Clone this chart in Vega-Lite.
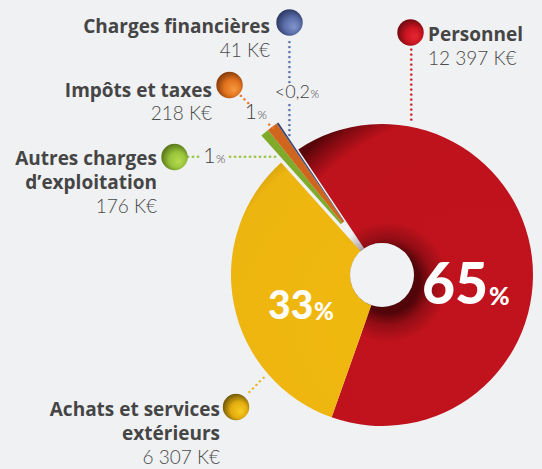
{
  "$schema": "https://vega.github.io/schema/vega-lite/v6.json",
  "width": 320,
  "height": 388,
  "padding": {"left": 222, "top": 81, "right": 0, "bottom": 0},
  "autosize": {"type": "none"},
  "background": "#F0F1F3",
  "config": {"view": {"stroke": null}, "text": {"font": "Lato"}},
  "data": {
    "values": [
      {"rank": 1, "category": "Personnel", "label": ["Personnel"], "amount": "12 397 K€", "value": 12397, "pct": "65"},
      {"rank": 2, "category": "Achats et services extérieurs", "label": ["Achats et services", "extérieurs"], "amount": "6 307 K€", "value": 6307, "pct": "33"},
      {"rank": 3, "category": "Autres charges d’exploitation", "label": ["Autres charges", "d’exploitation"], "amount": "176 K€", "value": 176, "pct": "1"},
      {"rank": 4, "category": "Impôts et taxes", "label": ["Impôts et taxes"], "amount": "218 K€", "value": 218, "pct": "1"},
      {"rank": 5, "category": "Charges financières", "label": ["Charges financières"], "amount": "41 K€", "value": 41, "pct": "<0,2"}
    ]
  },
  "layer": [
    {
      "mark": {"type": "arc", "innerRadius": 32, "outerRadius": 151,
        "fill": {"gradient": "radial", "x1": 0.75, "y1": 0.75, "r1": 0, "x2": 0.75, "y2": 0.75, "r2": 0.9,
          "stops": [{"offset": 0, "color": "#C1131D"}, {"offset": 0.89, "color": "#BE121C"}, {"offset": 0.96, "color": "#820A11"}, {"offset": 1, "color": "#58060A"}]}},
      "encoding": {
        "theta": {"field": "value", "type": "quantitative", "stack": true, "scale": {"range": [-0.5882, 5.695]}},
        "order": {"field": "rank", "type": "quantitative"},
        "detail": {"field": "category"},
        "opacity": {"condition": {"test": "datum.rank === 1", "value": 1}, "value": 0}
      }
    },
    {
      "transform": [{"filter": "datum.rank === 1"}],
      "mark": {"type": "arc", "innerRadius": 0, "outerRadius": 60, "xOffset": 6, "yOffset": 7,
        "fill": {"gradient": "radial", "x1": 0.5, "y1": 0.5, "r1": 0, "x2": 0.5, "y2": 0.5, "r2": 0.5,
          "stops": [{"offset": 0, "color": "rgba(45,0,3,0.8)"}, {"offset": 0.52, "color": "rgba(45,0,3,0.75)"}, {"offset": 0.72, "color": "rgba(45,0,3,0.3)"}, {"offset": 1, "color": "rgba(45,0,3,0)"}]}},
      "encoding": {}
    },
    {
      "mark": {"type": "arc", "innerRadius": 32, "outerRadius": 151,
        "fill": {"gradient": "radial", "x1": 0.9, "y1": 0.62, "r1": 0, "x2": 0.9, "y2": 0.62, "r2": 0.95,
          "stops": [{"offset": 0, "color": "#F0B90F"}, {"offset": 0.78, "color": "#EDB50F"}, {"offset": 0.92, "color": "#B48808"}, {"offset": 1, "color": "#584203"}]}},
      "encoding": {
        "theta": {"field": "value", "type": "quantitative", "stack": true},
        "order": {"field": "rank", "type": "quantitative"},
        "detail": {"field": "category"},
        "opacity": {"condition": {"test": "datum.rank === 2", "value": 1}, "value": 0}
      }
    },
    {
      "mark": {"type": "arc", "innerRadius": 32, "outerRadius": 151, "xOffset": -19.8, "yOffset": -27},
      "encoding": {
        "theta": {"field": "value", "type": "quantitative", "stack": true},
        "order": {"field": "rank", "type": "quantitative"},
        "color": {"field": "category", "type": "nominal", "legend": null,
          "scale": {"domain": ["Personnel", "Achats et services extérieurs", "Autres charges d’exploitation", "Impôts et taxes", "Charges financières"],
                    "range": ["#BE131C", "#EDB50F", "#80AA29", "#D0651D", "#3A4676"]}},
        "opacity": {"condition": {"test": "datum.rank >= 3", "value": 1}, "value": 0}
      }
    },
    {
      "transform": [{"filter": "datum.rank === 1"}],
      "mark": {"type": "arc", "innerRadius": 0, "outerRadius": 32, "fill": "#F1F2F4"},
      "encoding": {}
    },
    {
      "mark": {"type": "text", "radius": 90, "align": "right", "baseline": "alphabetic", "fontSize": 57, "fontWeight": 900, "color": "#FFFFFF", "xOffset": 16.7, "yOffset": 40.1},
      "encoding": {
        "theta": {"field": "value", "type": "quantitative", "stack": true},
        "order": {"field": "rank", "type": "quantitative"},
        "detail": {"field": "category"},
        "text": {"condition": {"test": "datum.rank === 1", "field": "pct"}, "value": ""}
      }
    },
    {
      "mark": {"type": "text", "radius": 90, "align": "left", "baseline": "alphabetic", "fontSize": 25, "fontWeight": 900, "color": "#FFFFFF", "xOffset": 17.7, "yOffset": 41.1},
      "encoding": {
        "theta": {"field": "value", "type": "quantitative", "stack": true},
        "order": {"field": "rank", "type": "quantitative"},
        "detail": {"field": "category"},
        "text": {"condition": {"test": "datum.rank === 1", "value": "%"}, "value": ""}
      }
    },
    {
      "mark": {"type": "text", "radius": 90, "align": "right", "baseline": "alphabetic", "fontSize": 39, "fontWeight": 900, "color": "#FFFFFF", "xOffset": 19.6, "yOffset": 26.8},
      "encoding": {
        "theta": {"field": "value", "type": "quantitative", "stack": true},
        "order": {"field": "rank", "type": "quantitative"},
        "detail": {"field": "category"},
        "text": {"condition": {"test": "datum.rank === 2", "field": "pct"}, "value": ""}
      }
    },
    {
      "mark": {"type": "text", "radius": 90, "align": "left", "baseline": "alphabetic", "fontSize": 24, "fontWeight": 900, "color": "#FFFFFF", "xOffset": 20.3, "yOffset": 27.5},
      "encoding": {
        "theta": {"field": "value", "type": "quantitative", "stack": true},
        "order": {"field": "rank", "type": "quantitative"},
        "detail": {"field": "category"},
        "text": {"condition": {"test": "datum.rank === 2", "value": "%"}, "value": ""}
      }
    },
    {
      "transform": [{"filter": "datum.rank === 1"}],
      "layer": [
        {"mark": {"type": "text", "text": "•••••••••••••••", "font": "DejaVu Sans", "fontSize": 8.5, "angle": 90, "align": "center", "baseline": "middle", "color": "#CF1F2A", "xOffset": 28.7, "yOffset": -190.5}, "encoding": {}},
        {"mark": {"type": "point", "shape": "circle", "filled": true, "size": 700, "opacity": 1, "xOffset": 28.5, "yOffset": -242.5,
          "fill": {"gradient": "radial", "x1": 0.68, "y1": 0.68, "r1": 0, "x2": 0.55, "y2": 0.55, "r2": 0.62,
            "stops": [{"offset": 0, "color": "#E82834"}, {"offset": 0.5, "color": "#C8141F"}, {"offset": 1, "color": "#5E080D"}]}}, "encoding": {}},
        {"mark": {"type": "text", "font": "Open Sans", "align": "left", "baseline": "alphabetic", "fontSize": 19, "fontWeight": "bold", "color": "#454545", "xOffset": 46, "yOffset": -234.3, "lineHeight": 24}, "encoding": {"text": {"field": "label"}}},
        {"mark": {"type": "text", "align": "left", "baseline": "alphabetic", "fontSize": 19, "fontWeight": 300, "color": "#4A4A4A", "xOffset": 46, "yOffset": -210}, "encoding": {"text": {"field": "amount"}}}
      ]
    },
    {
      "transform": [{"filter": "datum.rank === 2"}],
      "layer": [
        {"mark": {"type": "text", "text": "•••••", "font": "DejaVu Sans", "fontSize": 8.5, "angle": -45, "align": "center", "baseline": "middle", "color": "#EBB416", "xOffset": -125.3, "yOffset": 110}, "encoding": {}},
        {"mark": {"type": "point", "shape": "circle", "filled": true, "size": 700, "opacity": 1, "xOffset": -146, "yOffset": 132,
          "fill": {"gradient": "radial", "x1": 0.68, "y1": 0.68, "r1": 0, "x2": 0.55, "y2": 0.55, "r2": 0.62,
            "stops": [{"offset": 0, "color": "#F8CC22"}, {"offset": 0.5, "color": "#E3AD0E"}, {"offset": 1, "color": "#5A4706"}]}}, "encoding": {}},
        {"mark": {"type": "text", "font": "Open Sans", "align": "right", "baseline": "alphabetic", "fontSize": 19, "fontWeight": "bold", "color": "#454545", "xOffset": -162, "yOffset": 141, "lineHeight": 24}, "encoding": {"text": {"field": "label"}}},
        {"mark": {"type": "text", "align": "right", "baseline": "alphabetic", "fontSize": 19, "fontWeight": 300, "color": "#4A4A4A", "xOffset": -162, "yOffset": 189}, "encoding": {"text": {"field": "amount"}}}
      ]
    },
    {
      "transform": [{"filter": "datum.rank === 3"}],
      "layer": [
        {"mark": {"type": "text", "text": "•••", "font": "DejaVu Sans", "fontSize": 8.5, "angle": 0, "align": "center", "baseline": "middle", "color": "#9CC43C", "xOffset": -189, "yOffset": -118.3}, "encoding": {}},
        {"mark": {"type": "text", "text": "••••••••••", "font": "DejaVu Sans", "fontSize": 8.5, "angle": 0, "align": "center", "baseline": "middle", "color": "#9CC43C", "xOffset": -129.5, "yOffset": -118.3}, "encoding": {}},
        {"mark": {"type": "point", "shape": "circle", "filled": true, "size": 700, "opacity": 1, "xOffset": -207.5, "yOffset": -118,
          "fill": {"gradient": "radial", "x1": 0.68, "y1": 0.68, "r1": 0, "x2": 0.55, "y2": 0.55, "r2": 0.62,
            "stops": [{"offset": 0, "color": "#B8DC50"}, {"offset": 0.5, "color": "#98C33A"}, {"offset": 1, "color": "#4A6612"}]}}, "encoding": {}},
        {"mark": {"type": "text", "font": "Open Sans", "align": "right", "baseline": "alphabetic", "fontSize": 19, "fontWeight": "bold", "color": "#454545", "xOffset": -225, "yOffset": -110, "lineHeight": 24}, "encoding": {"text": {"field": "label"}}},
        {"mark": {"type": "text", "align": "right", "baseline": "alphabetic", "fontSize": 19, "fontWeight": 300, "color": "#4A4A4A", "xOffset": -225, "yOffset": -62}, "encoding": {"text": {"field": "amount"}}},
        {"mark": {"type": "text", "align": "right", "baseline": "alphabetic", "fontSize": 21, "fontWeight": 300, "color": "#404040", "xOffset": -166.5, "yOffset": -111.7}, "encoding": {"text": {"field": "pct"}}},
        {"mark": {"type": "text", "text": "%", "align": "left", "baseline": "alphabetic", "fontSize": 12, "fontWeight": 300, "color": "#404040", "xOffset": -166, "yOffset": -111.7}, "encoding": {}}
      ]
    },
    {
      "transform": [{"filter": "datum.rank === 4"}],
      "layer": [
        {"mark": {"type": "text", "text": "•••", "font": "DejaVu Sans", "fontSize": 8.5, "angle": 45, "align": "center", "baseline": "middle", "color": "#E8762B", "xOffset": -137.5, "yOffset": -175.5}, "encoding": {}},
        {"mark": {"type": "text", "text": "••", "font": "DejaVu Sans", "fontSize": 8.5, "angle": 45, "align": "center", "baseline": "middle", "color": "#E8762B", "xOffset": -111, "yOffset": -148.5}, "encoding": {}},
        {"mark": {"type": "point", "shape": "circle", "filled": true, "size": 700, "opacity": 1, "xOffset": -152.5, "yOffset": -190,
          "fill": {"gradient": "radial", "x1": 0.68, "y1": 0.68, "r1": 0, "x2": 0.55, "y2": 0.55, "r2": 0.62,
            "stops": [{"offset": 0, "color": "#F49A40"}, {"offset": 0.5, "color": "#E3731F"}, {"offset": 1, "color": "#733106"}]}}, "encoding": {}},
        {"mark": {"type": "text", "font": "Open Sans", "align": "right", "baseline": "alphabetic", "fontSize": 19, "fontWeight": "bold", "color": "#454545", "xOffset": -170, "yOffset": -178.3, "lineHeight": 24}, "encoding": {"text": {"field": "label"}}},
        {"mark": {"type": "text", "align": "right", "baseline": "alphabetic", "fontSize": 19, "fontWeight": 300, "color": "#4A4A4A", "xOffset": -170, "yOffset": -155}, "encoding": {"text": {"field": "amount"}}},
        {"mark": {"type": "text", "align": "right", "baseline": "alphabetic", "fontSize": 21, "fontWeight": 300, "color": "#404040", "xOffset": -125, "yOffset": -155.7}, "encoding": {"text": {"field": "pct"}}},
        {"mark": {"type": "text", "text": "%", "align": "left", "baseline": "alphabetic", "fontSize": 12, "fontWeight": 300, "color": "#404040", "xOffset": -124.5, "yOffset": -155.7}, "encoding": {}}
      ]
    },
    {
      "transform": [{"filter": "datum.rank === 5"}],
      "layer": [
        {"mark": {"type": "text", "text": "•••••••••", "font": "DejaVu Sans", "fontSize": 8.5, "angle": 90, "align": "center", "baseline": "middle", "color": "#5E72B0", "xOffset": -93, "yOffset": -213}, "encoding": {}},
        {"mark": {"type": "text", "text": "•••••••", "font": "DejaVu Sans", "fontSize": 8.5, "angle": 90, "align": "center", "baseline": "middle", "color": "#5E72B0", "xOffset": -93, "yOffset": -155}, "encoding": {}},
        {"mark": {"type": "point", "shape": "circle", "filled": true, "size": 700, "opacity": 1, "xOffset": -92.5, "yOffset": -252.5,
          "fill": {"gradient": "radial", "x1": 0.68, "y1": 0.68, "r1": 0, "x2": 0.55, "y2": 0.55, "r2": 0.62,
            "stops": [{"offset": 0, "color": "#8396CC"}, {"offset": 0.5, "color": "#5B6EA8"}, {"offset": 1, "color": "#232E55"}]}}, "encoding": {}},
        {"mark": {"type": "text", "font": "Open Sans", "align": "right", "baseline": "alphabetic", "fontSize": 19, "fontWeight": "bold", "color": "#454545", "xOffset": -112, "yOffset": -241.7, "lineHeight": 24}, "encoding": {"text": {"field": "label"}}},
        {"mark": {"type": "text", "align": "right", "baseline": "alphabetic", "fontSize": 19, "fontWeight": 300, "color": "#4A4A4A", "xOffset": -112, "yOffset": -217.7}, "encoding": {"text": {"field": "amount"}}},
        {"mark": {"type": "text", "align": "right", "baseline": "alphabetic", "fontSize": 18, "fontWeight": 300, "color": "#404040", "xOffset": -72, "yOffset": -176.7}, "encoding": {"text": {"field": "pct"}}},
        {"mark": {"type": "text", "text": "%", "align": "left", "baseline": "alphabetic", "fontSize": 11, "fontWeight": 300, "color": "#404040", "xOffset": -71.5, "yOffset": -176.7}, "encoding": {}}
      ]
    }
  ]
}
